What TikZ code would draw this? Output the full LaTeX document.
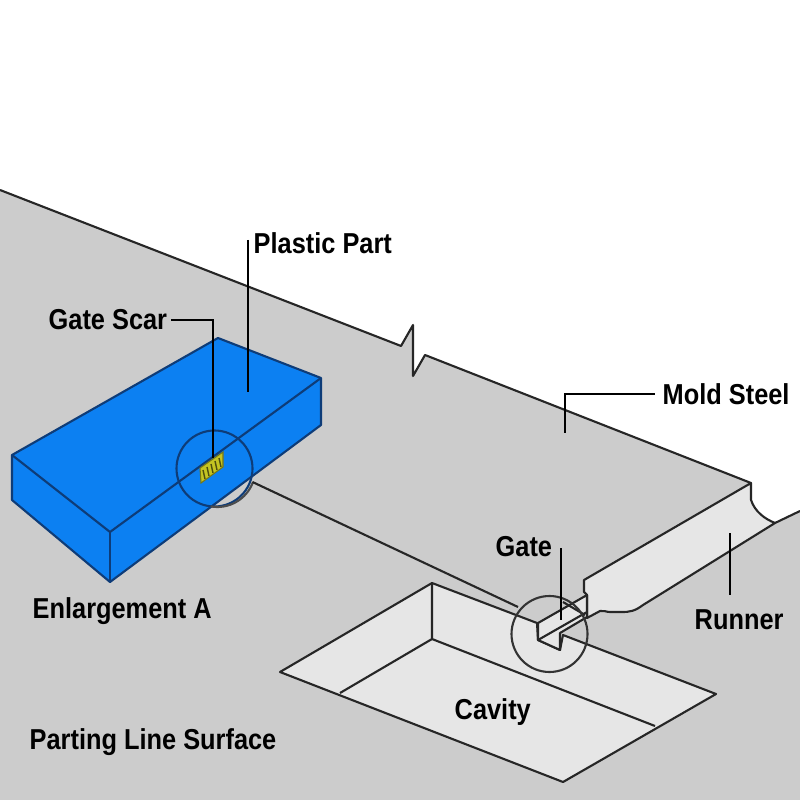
\documentclass[tikz,border=0pt]{standalone}
\usepackage{fontspec}
\setmainfont[FakeStretch=0.88]{Liberation Sans}
\definecolor{steelgray}{HTML}{CCCCCC}
\definecolor{cutgray}{HTML}{E6E6E6}
\definecolor{partblue}{HTML}{0C80F2}
\definecolor{partedge}{HTML}{0E3C78}
\definecolor{scaryellow}{HTML}{C4C422}
\begin{document}
\begin{tikzpicture}[
    x=0.1mm, y=-0.1mm,
    lbl/.style={
        anchor=west, inner sep=0pt,
        font=\bfseries\fontsize{8.2}{9}\selectfont
    },
    edge/.style={line width=0.6pt, black!85, line join=round},
    leader/.style={line width=0.6pt, black},
    cut/.style={fill=cutgray},
    part/.style={line width=0.6pt, draw=partedge, line join=round},
]
\useasboundingbox[fill=white] (0,0) rectangle (800,800);

% surface, with the break in the top edge
\fill[steelgray] (0,190) -- (401,346) -- (413,325) -- (413,376) -- (425,355)
    -- (751,483) -- (751,500) .. controls (755,512) and (765,519) .. (775,523)
    -- (800,511) -- (800,800) -- (0,800) -- cycle;
\draw[edge] (0,190) -- (401,346) -- (413,325) -- (413,376) -- (425,355) -- (751,483);

% runner
\filldraw[edge, cut] (584,580) -- (751,483) -- (751,500)
    .. controls (755,512) and (765,519) .. (775,523)
    -- (643,605) .. controls (635,611) and (630,612) .. (622,612)
    -- (610,612) .. controls (606,612) and (603,610) .. (600,611)
    -- (587,618) -- (587,595) -- (584,592) -- cycle;
\draw[edge] (775,523) -- (800,511);

% cavity
\filldraw[edge, cut] (280,672) -- (432,583) -- (537,623) -- (538,640) -- (560,650)
    -- (563,635) -- (716,694) -- (563,782) -- cycle;
\draw[edge] (432,583) -- (432,639) -- (340,693);
\draw[edge] (432,639) -- (655,726);

% gate
\filldraw[edge, cut] (538,623) -- (587,595) -- (587,617) -- (560,633) -- (560,650)
    -- (538,640) -- cycle;
\draw[edge] (538,640) -- (587,612);
\draw[edge] (563,602) -- (585,615);

% plastic part
\filldraw[part, fill=partblue] (12,455) -- (218,338) -- (321,378) -- (321,425)
    -- (110,582) -- (12,500) -- cycle;
\draw[part] (12,455) -- (110,532) -- (321,378);
\draw[part] (110,532) -- (110,582);
\filldraw[fill=scaryellow, draw=scaryellow!60!black, line width=0.3pt]
    (200,468) -- (223,452) -- (223,467) -- (201,483) -- cycle;
\foreach \i in {0,...,4} {
    \draw[scaryellow!40!black, line width=0.4pt]
        (203+4*\i,470-3*\i) -- (205+4*\i,479-3*\i);
}

% enlargement circles
\node [circle, draw=partedge, line width=0.6pt, minimum size=7.6mm, inner sep=0pt]
    (scarring) at (214.5,468.5) {};
\draw[edge, black!70] (253,482) arc[start angle=20, end angle=100, radius=38];
\node [circle, draw=black!80, line width=0.6pt, minimum size=7.6mm, inner sep=0pt]
    (gatering) at (549.5,634) {};
\draw[edge] (scarring) ++(38,13.5) -- (518,607);

% labels
\node [lbl] (plastic) at (253,243) {Plastic Part};
\node [lbl] (scar) at (48,320) {Gate Scar};
\node [lbl] (mold) at (662,394) {Mold Steel};
\node [lbl] (gate) at (495,547) {Gate};
\node [lbl] (runner) at (694,620) {Runner};
\node [lbl] (enlarge) at (32,611) {Enlargement A};
\node [lbl] (cavity) at (454,712) {Cavity};
\node [lbl] (parting) at (29,742) {Parting Line Surface};

\coordinate (plastictop) at (248,240);
\coordinate (plasticend) at (248,392);
\coordinate (scarend) at (213,458);
\coordinate (moldend) at (565,433);
\coordinate (gatetop) at (561,548);
\coordinate (gateend) at (561,620);
\coordinate (runnertop) at (730,533);
\coordinate (runnerend) at (730,595);

\draw[leader] (plastictop) -- (plasticend);
\draw[leader] ([xshift=1pt]scar.east) -| (scarend);
\draw[leader] ([xshift=-2pt]mold.west) -| (moldend);
\draw[leader] (gatetop) -- (gateend);
\draw[leader] (runnertop) -- (runnerend);

\end{tikzpicture}
\end{document}
